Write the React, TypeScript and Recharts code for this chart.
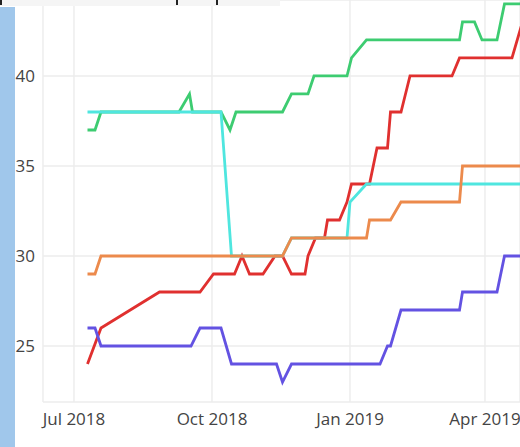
import { LineChart, Line, XAxis, YAxis, CartesianGrid } from 'recharts'

type Pt = [string, number]

const green: Pt[] = [
  ['2018-07-10', 37], ['2018-07-15', 37], ['2018-07-19', 38], ['2018-09-09', 38],
  ['2018-09-16', 39], ['2018-09-18', 38], ['2018-10-07', 38], ['2018-10-13', 37],
  ['2018-10-17', 38], ['2018-11-17', 38], ['2018-11-23', 39], ['2018-12-04', 39],
  ['2018-12-08', 40], ['2018-12-30', 40], ['2019-01-02', 41], ['2019-01-12', 42],
  ['2019-03-15', 42], ['2019-03-17', 43], ['2019-03-25', 43], ['2019-03-30', 42],
  ['2019-04-09', 42], ['2019-04-14', 44], ['2019-04-30', 44],
]

const red: Pt[] = [
  ['2018-07-10', 24], ['2018-07-19', 26], ['2018-08-27', 28], ['2018-09-23', 28],
  ['2018-10-02', 29], ['2018-10-16', 29], ['2018-10-21', 30], ['2018-10-26', 29],
  ['2018-11-04', 29], ['2018-11-12', 30], ['2018-11-17', 30], ['2018-11-23', 29],
  ['2018-12-02', 29], ['2018-12-04', 30], ['2018-12-09', 31], ['2018-12-15', 31],
  ['2018-12-17', 32], ['2018-12-25', 32], ['2018-12-30', 33], ['2019-01-02', 34],
  ['2019-01-14', 34], ['2019-01-19', 36], ['2019-01-26', 36], ['2019-01-28', 38],
  ['2019-02-04', 38], ['2019-02-07', 39], ['2019-02-10', 40], ['2019-03-10', 40],
  ['2019-03-15', 41], ['2019-04-19', 41], ['2019-04-26', 43],
]

const purple: Pt[] = [
  ['2018-07-10', 26], ['2018-07-15', 26], ['2018-07-19', 25], ['2018-09-17', 25],
  ['2018-09-23', 26], ['2018-10-07', 26], ['2018-10-14', 24], ['2018-11-13', 24],
  ['2018-11-17', 23], ['2018-11-23', 24], ['2019-01-21', 24], ['2019-01-26', 25],
  ['2019-01-28', 25], ['2019-02-04', 27], ['2019-03-15', 27], ['2019-03-17', 28],
  ['2019-04-09', 28], ['2019-04-14', 30], ['2019-04-30', 30],
]

const cyan: Pt[] = [
  ['2018-07-10', 38], ['2018-10-07', 38], ['2018-10-14', 30], ['2018-11-17', 30],
  ['2018-11-23', 31], ['2018-12-30', 31], ['2019-01-01', 33], ['2019-01-12', 34],
  ['2019-04-30', 34],
]

const orange: Pt[] = [
  ['2018-07-10', 29], ['2018-07-15', 29], ['2018-07-19', 30], ['2018-11-17', 30],
  ['2018-11-23', 31], ['2019-01-12', 31], ['2019-01-14', 32], ['2019-01-28', 32],
  ['2019-02-04', 33], ['2019-03-15', 33], ['2019-03-17', 35], ['2019-04-30', 35],
]

const xTickDates = ['2018-07-01', '2018-10-01', '2019-01-01', '2019-04-01']
const yTicks = [25, 30, 35, 40]
const months = ['Jan', 'Feb', 'Mar', 'Apr', 'May', 'Jun', 'Jul', 'Aug', 'Sep', 'Oct', 'Nov', 'Dec']

const DAY = 86400000
const toT = (s: string) => {
  const [y, m, d] = s.split('-').map(Number)
  return Date.UTC(y, m - 1, d)
}
const rows = (pts: Pt[]) => pts.map(([d, v]) => ({ t: toT(d), v }))

const series = [
  { name: 'green', color: '#3dcc71', pts: green },
  { name: 'red', color: '#e0302f', pts: red },
  { name: 'purple', color: '#6352e2', pts: purple },
  { name: 'cyan', color: '#4fe6df', pts: cyan },
  { name: 'orange', color: '#ec8a4c', pts: orange },
]

const xDomain = [toT('2018-06-10') + DAY / 3, toT('2019-04-24') + DAY / 3]
const fmtDate = (t: number) => {
  const d = new Date(t)
  return `${months[d.getUTCMonth()]} ${d.getUTCFullYear()}`
}

const tickStyle = { fontFamily: '"Open Sans", sans-serif', fontSize: 17, fill: '#444' }

export default function App() {
  return (
    <div style={{ position: 'absolute', left: 0, top: 0, width: 520, height: 447, overflow: 'hidden', background: '#fff' }}>
      <LineChart width={520} height={447} margin={{ top: 0, right: 0, left: 0, bottom: 15 }}>
        <CartesianGrid stroke="#ececec" strokeWidth={1.4} ticks={undefined} />
        <XAxis
          dataKey="t"
          type="number"
          domain={xDomain}
          allowDataOverflow
          ticks={xTickDates.map(toT)}
          tickFormatter={fmtDate}
          axisLine={false}
          tickLine={false}
          tickSize={0}
          tickMargin={11}
          height={30}
          tick={tickStyle}
        />
        <YAxis
          type="number"
          domain={[21.89, 44.22]}
          allowDataOverflow
          ticks={yTicks}
          axisLine={false}
          tickLine={false}
          tickSize={0}
          tickMargin={8}
          width={43}
          tick={tickStyle}
        />
        {series.map((s) => (
          <Line
            key={s.name}
            data={rows(s.pts)}
            dataKey="v"
            type="linear"
            stroke={s.color}
            strokeWidth={2.8}
            dot={false}
            activeDot={false}
            isAnimationActive={false}
          />
        ))}
      </LineChart>
      <div style={{ position: 'absolute', left: 0, top: 0, width: 280, height: 6, background: '#f5f5f5' }} />
      <div style={{ position: 'absolute', left: 0, top: 0, width: 2, height: 5, background: '#222' }} />
      <div style={{ position: 'absolute', left: 176, top: 0, width: 2, height: 5, background: '#222' }} />
      <div style={{ position: 'absolute', left: 216, top: 0, width: 2, height: 5, background: '#222' }} />
      <div style={{ position: 'absolute', left: 0, top: 7, width: 15, height: 440, background: '#a0c7eb' }} />
    </div>
  )
}
